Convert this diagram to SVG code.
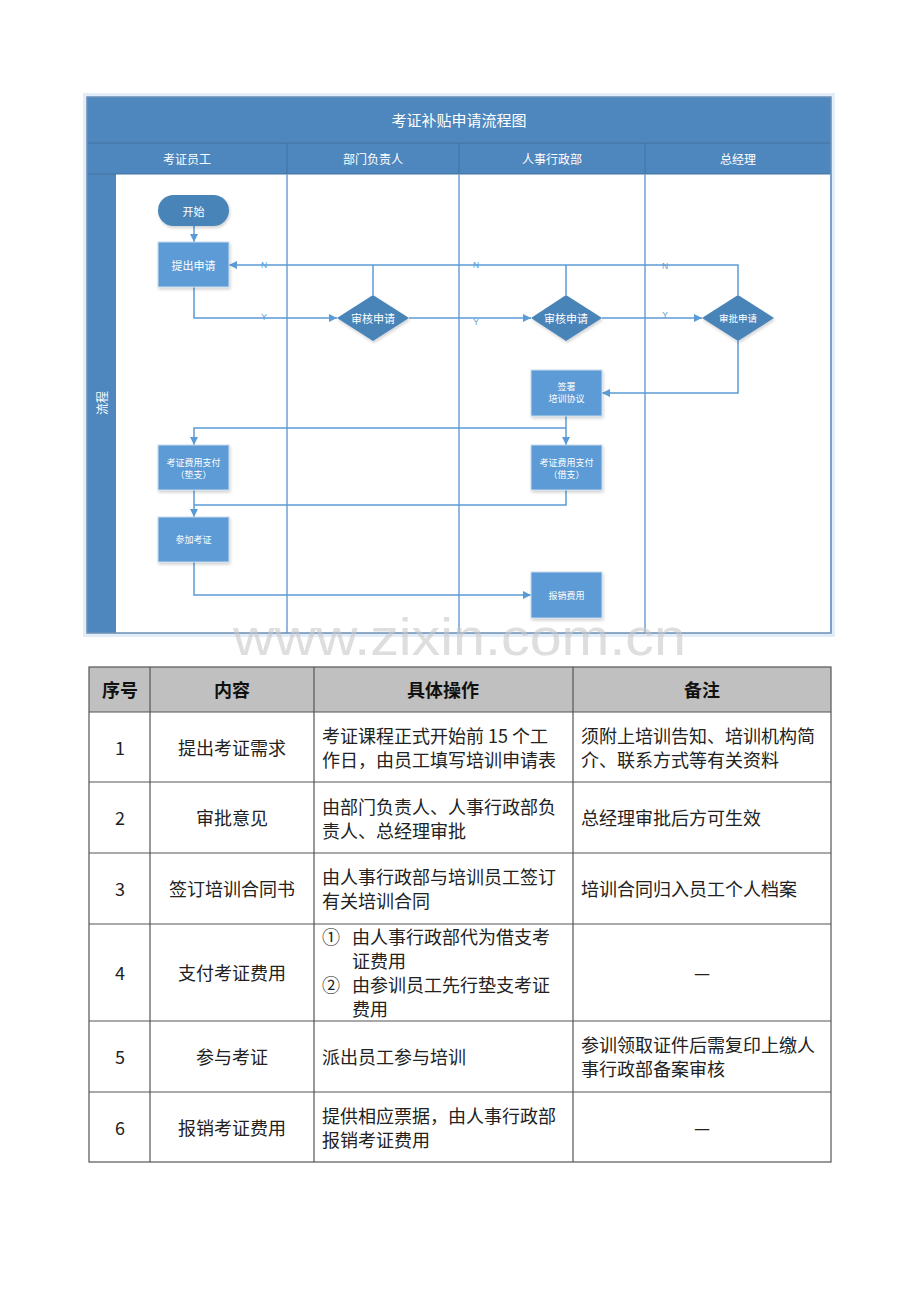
<svg xmlns="http://www.w3.org/2000/svg" width="920" height="1302" viewBox="0 0 920 1302">
<defs>
<marker id="arr" viewBox="0 0 10 10" refX="10" refY="5" markerWidth="8" markerHeight="8" markerUnits="userSpaceOnUse" orient="auto">
<path d="M0,0 L10,5 L0,10 z" fill="#5B9BD5"/>
</marker>
<filter id="sh" x="-20%" y="-20%" width="140%" height="140%">
<feDropShadow dx="1" dy="2" stdDeviation="1.5" flood-color="#000" flood-opacity="0.18"/>
</filter>
<style>
.cjk{font-family:"Noto Sans CJK SC","Liberation Sans",sans-serif;}
.hdr{fill:#4E87BD;}
.wt{fill:#fff;text-anchor:middle;dominant-baseline:central;font-family:"Noto Sans CJK SC","Liberation Sans",sans-serif;}
.box{fill:#5B9BD5;stroke:#c9dcee;stroke-width:1;filter:url(#sh);}
.dark{fill:#4A84B9;filter:url(#sh);}
.ln{fill:none;stroke:#5B9BD5;stroke-width:1.5;}
.lane{stroke:#6FA0D2;stroke-width:1.5;}
.yn{fill:#5B9BD5;font-family:"Liberation Sans",sans-serif;font-size:8.5px;text-anchor:middle;dominant-baseline:central;}
.tb{fill:none;stroke:#555;stroke-width:1.2;}
.t{fill:#222;font-family:"Noto Sans CJK SC","Liberation Sans",sans-serif;font-size:18px;dominant-baseline:central;}
.tc{text-anchor:middle;}
.th{fill:#111;font-family:"Noto Sans CJK SC","Liberation Sans",sans-serif;font-size:18px;font-weight:bold;text-anchor:middle;dominant-baseline:central;}
</style>
</defs>
<rect width="920" height="1302" fill="#fff"/>

<!-- flowchart frame -->
<g id="frame">
<rect x="85" y="95" width="748" height="540" fill="none" stroke="#e3edf8" stroke-width="4"/>
<rect x="87" y="97" width="744" height="536" fill="#fff"/>
<rect x="87" y="97" width="744" height="46" class="hdr"/>
<rect x="87" y="143" width="744" height="31" class="hdr"/>
<rect x="87" y="174" width="29" height="459" class="hdr"/>
<line x1="87" y1="143" x2="831" y2="143" stroke="#4373a3" stroke-width="1"/>
<line x1="87" y1="174" x2="831" y2="174" stroke="#4373a3" stroke-width="1"/>
<line x1="287" y1="143" x2="287" y2="174" stroke="#4373a3" stroke-width="1"/>
<line x1="459" y1="143" x2="459" y2="174" stroke="#4373a3" stroke-width="1"/>
<line x1="645" y1="143" x2="645" y2="174" stroke="#4373a3" stroke-width="1"/>
<line x1="287" y1="174" x2="287" y2="633" class="lane"/>
<line x1="459" y1="174" x2="459" y2="633" class="lane"/>
<line x1="645" y1="174" x2="645" y2="633" class="lane"/>
<rect x="87" y="97" width="744" height="536" fill="none" stroke="#6a8fb6" stroke-width="1.5"/>
<line x1="831" y1="174" x2="831" y2="633" stroke="#7aa0c8" stroke-width="2"/>
<text x="459" y="119" class="wt" font-size="15">考证补贴申请流程图</text>
<text x="187" y="158" class="wt" font-size="12">考证员工</text>
<text x="373" y="158" class="wt" font-size="12">部门负责人</text>
<text x="552" y="158" class="wt" font-size="12">人事行政部</text>
<text x="738" y="158" class="wt" font-size="12">总经理</text>
<text x="101" y="403" class="wt" font-size="12" transform="rotate(-90 101 403)">流程</text>
</g>

<!-- connectors -->
<g id="connectors">
<path class="ln" d="M194,226 V242" marker-end="url(#arr)"/>
<path class="ln" d="M738,295 V265 H229" marker-end="url(#arr)"/>
<path class="ln" d="M373,295 V265"/>
<path class="ln" d="M566,295 V265"/>
<path class="ln" d="M194,287 V318 H337" marker-end="url(#arr)"/>
<path class="ln" d="M409,318 H531" marker-end="url(#arr)"/>
<path class="ln" d="M602,318 H702" marker-end="url(#arr)"/>
<path class="ln" d="M738,341 V393 H602" marker-end="url(#arr)"/>
<path class="ln" d="M566,416 V445" marker-end="url(#arr)"/>
<path class="ln" d="M566,428 H194 V445" marker-end="url(#arr)"/>
<path class="ln" d="M194,490 V517" marker-end="url(#arr)"/>
<path class="ln" d="M566,490 V505 H194"/>
<path class="ln" d="M194,562 V595 H531" marker-end="url(#arr)"/>
<text x="264" y="265" class="yn">N</text>
<text x="476" y="265" class="yn">N</text>
<text x="665" y="266" class="yn">N</text>
<text x="264" y="317" class="yn">Y</text>
<text x="476" y="322" class="yn">Y</text>
<text x="665" y="315" class="yn">Y</text>
</g>

<g id="start">
<rect x="158" y="195" width="71" height="31" rx="15.5" class="dark"/>
<text x="193.5" y="210.5" class="wt" font-size="11">开始</text>
</g>
<g id="apply">
<rect x="158" y="242" width="71" height="45" class="box"/>
<text x="193.5" y="264.5" class="wt" font-size="11">提出申请</text>
</g>
<g id="review1">
<polygon points="337,318 373,295 409,318 373,341" class="dark"/>
<text x="373" y="318" class="wt" font-size="11">审核申请</text>
</g>
<g id="review2">
<polygon points="531,318 566,295 602,318 566,341" class="dark"/>
<text x="566" y="318" class="wt" font-size="11">审核申请</text>
</g>
<g id="approve">
<polygon points="702,318 738,295 774,318 738,341" class="dark"/>
<text x="738" y="318" class="wt" font-size="9.5">审批申请</text>
</g>
<g id="sign">
<rect x="531" y="370" width="71" height="46" class="box"/>
<text x="566.5" y="386" class="wt" font-size="9">签署</text>
<text x="566.5" y="398" class="wt" font-size="9">培训协议</text>
</g>
<g id="pay-borrow">
<rect x="531" y="445" width="71" height="45" class="box"/>
<text x="566.5" y="462" class="wt" font-size="9">考证费用支付</text>
<text x="566.5" y="474" class="wt" font-size="9">（借支）</text>
</g>
<g id="pay-advance">
<rect x="158" y="445" width="71" height="45" class="box"/>
<text x="193.5" y="462" class="wt" font-size="9">考证费用支付</text>
<text x="193.5" y="474" class="wt" font-size="9">（垫支）</text>
</g>
<g id="exam">
<rect x="158" y="517" width="71" height="45" class="box"/>
<text x="193.5" y="539.5" class="wt" font-size="9">参加考证</text>
</g>
<g id="reimburse">
<rect x="531" y="572" width="71" height="46" class="box"/>
<text x="566.5" y="595" class="wt" font-size="9">报销费用</text>
</g>

<!-- watermark -->
<text x="233" y="655" font-family="Liberation Sans, sans-serif" font-size="52" fill="#c8c8c8" fill-opacity="0.6" textLength="453" lengthAdjust="spacingAndGlyphs">www.zixin.com.cn</text>

<!-- table -->
<g id="table">
<rect x="89" y="667" width="742" height="45" fill="#C0C0C0"/>
<rect x="89" y="667" width="742" height="495" class="tb"/>
<line x1="150" y1="667" x2="150" y2="1162" class="tb"/>
<line x1="314" y1="667" x2="314" y2="1162" class="tb"/>
<line x1="573" y1="667" x2="573" y2="1162" class="tb"/>
<line x1="89" y1="712" x2="831" y2="712" class="tb"/>
<line x1="89" y1="782" x2="831" y2="782" class="tb"/>
<line x1="89" y1="853" x2="831" y2="853" class="tb"/>
<line x1="89" y1="924" x2="831" y2="924" class="tb"/>
<line x1="89" y1="1021" x2="831" y2="1021" class="tb"/>
<line x1="89" y1="1092" x2="831" y2="1092" class="tb"/>
<text x="120" y="689" class="th">序号</text>
<text x="232" y="689" class="th">内容</text>
<text x="443" y="689" class="th">具体操作</text>
<text x="702" y="689" class="th">备注</text>

<text x="120" y="747" class="t tc">1</text>
<text x="232" y="747" class="t tc">提出考证需求</text>
<text class="t"><tspan x="322" y="735">考证课程正式开始前 15 个工</tspan><tspan x="322" y="759">作日，由员工填写培训申请表</tspan></text>
<text class="t"><tspan x="581" y="735">须附上培训告知、培训机构简</tspan><tspan x="581" y="759">介、联系方式等有关资料</tspan></text>

<text x="120" y="817" class="t tc">2</text>
<text x="232" y="817" class="t tc">审批意见</text>
<text class="t"><tspan x="322" y="806">由部门负责人、人事行政部负</tspan><tspan x="322" y="830">责人、总经理审批</tspan></text>
<text x="581" y="817" class="t">总经理审批后方可生效</text>

<text x="120" y="888" class="t tc">3</text>
<text x="232" y="888" class="t tc">签订培训合同书</text>
<text class="t"><tspan x="322" y="876">由人事行政部与培训员工签订</tspan><tspan x="322" y="900">有关培训合同</tspan></text>
<text x="581" y="888" class="t">培训合同归入员工个人档案</text>

<text x="120" y="972" class="t tc">4</text>
<text x="232" y="972" class="t tc">支付考证费用</text>
<text class="t"><tspan x="322" y="936">①</tspan><tspan x="352" y="936">由人事行政部代为借支考</tspan><tspan x="352" y="960">证费用</tspan><tspan x="322" y="984">②</tspan><tspan x="352" y="984">由参训员工先行垫支考证</tspan><tspan x="352" y="1008">费用</tspan></text>
<text x="702" y="972" class="t tc">—</text>

<text x="120" y="1056" class="t tc">5</text>
<text x="232" y="1056" class="t tc">参与考证</text>
<text x="322" y="1056" class="t">派出员工参与培训</text>
<text class="t"><tspan x="581" y="1044">参训领取证件后需复印上缴人</tspan><tspan x="581" y="1068">事行政部备案审核</tspan></text>

<text x="120" y="1127" class="t tc">6</text>
<text x="232" y="1127" class="t tc">报销考证费用</text>
<text class="t"><tspan x="322" y="1115">提供相应票据，由人事行政部</tspan><tspan x="322" y="1139">报销考证费用</tspan></text>
<text x="702" y="1127" class="t tc">—</text>
</g>
</svg>
